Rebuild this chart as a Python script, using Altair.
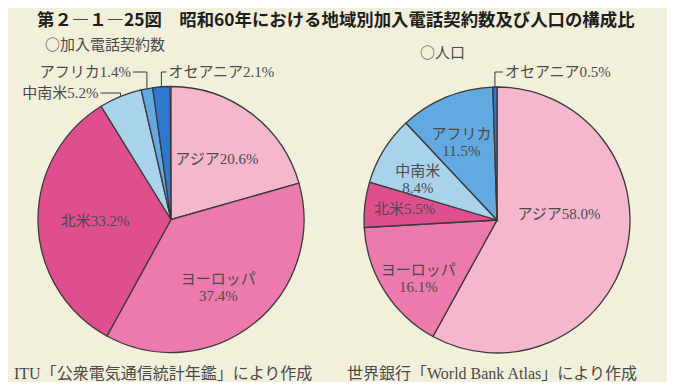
import altair as alt
import pandas as pd

# ---- data ----
regions = ["アジア", "ヨーロッパ", "北米", "中南米", "アフリカ", "オセアニア"]
phone = [20.6, 37.4, 33.2, 5.2, 1.4, 2.1]
population = [58.0, 16.1, 5.5, 8.4, 11.5, 0.5]

title_text = "第２―１―25図　昭和60年における地域別加入電話契約数及び人口の構成比"
sub_left = "○加入電話契約数"
sub_right = "○人口"
src_left = "ITU「公衆電気通信統計年鑑」により作成"
src_right = "世界銀行「World Bank Atlas」により作成"

colors = ["#f5b7ce", "#ec7aac", "#df4f8d", "#a9d3ea", "#62a9e2", "#2f77cf"]
BG = "#f2f0da"
STROKE = "#3a3a3a"
TXT = "#4a4a4a"
LABEL_FONT = "Liberation Serif, Noto Sans CJK JP"
JP_FONT = "Noto Sans CJK JP"
R = 133


def make_df(values, breaks):
    rows = []
    for i, (r, v) in enumerate(zip(regions, values)):
        sep = "\n" if r in breaks else ""
        rows.append({"idx": i, "region": r, "value": v, "label": f"{r}{sep}{v:.1f}%"})
    return pd.DataFrame(rows)


df_phone = make_df(phone, ["ヨーロッパ"])
df_pop = make_df(population, ["ヨーロッパ", "中南米", "アフリカ"])

theta_scale = alt.Scale(domain=[0, 100], range=[0, 6.283185307179586])
color_scale = alt.Scale(domain=regions, range=colors)


def pie(df, cx, cy):
    return alt.Chart(df).mark_arc(radius=R, stroke=STROKE, strokeWidth=1.3).encode(
        theta=alt.Theta("value:Q", stack=True, scale=theta_scale),
        color=alt.Color("region:N", scale=color_scale, legend=None),
        order=alt.Order("idx:Q"),
        x=alt.value(cx),
        y=alt.value(cy),
    )


def geo(df, cx, cy, rl):
    return alt.Chart(df).transform_window(
        cum="sum(value)", sort=[alt.SortField("idx", order="ascending")]
    ).transform_calculate(
        mid="(datum.cum - datum.value / 2) / 100 * 2 * PI",
        ex=f"{cx} + {R} * sin(datum.mid)",
        ey=f"{cy} - {R} * cos(datum.mid)",
        lx=f"{cx} + {rl} * sin(datum.mid)",
        ly=f"{cy} - {rl} * cos(datum.mid)",
    )


def inner_labels(df, cx, cy, rl, names, dx=0, dy=0):
    return geo(df, cx, cy, rl).transform_filter(
        alt.FieldOneOfPredicate(field="region", oneOf=names)
    ).mark_text(font=LABEL_FONT, fontSize=15, color=TXT, lineBreak="\n",
                align="center", baseline="middle", dx=dx, dy=dy, lineHeight=17).encode(
        x=alt.X("lx:Q", scale=None, axis=None),
        y=alt.Y("ly:Q", scale=None, axis=None),
        text="label:N",
    )


def outer_label(df, cx, cy, name, label_y, hlen):
    base = geo(df, cx, cy, R).transform_filter(alt.datum.region == name).transform_calculate(
        hx=f"datum.ex + {hlen}"
    )
    vert = base.mark_rule(color=STROKE, strokeWidth=1).encode(
        x=alt.X("ex:Q", scale=None, axis=None),
        y=alt.Y("ey:Q", scale=None, axis=None),
        y2=alt.value(label_y),
    )
    horiz = base.mark_rule(color=STROKE, strokeWidth=1).encode(
        x=alt.X("ex:Q", scale=None, axis=None),
        x2="hx:Q",
        y=alt.value(label_y),
    )
    txt = base.mark_text(font=LABEL_FONT, fontSize=15, color=TXT,
                         align="right" if hlen < 0 else "left",
                         dx=-2 if hlen < 0 else 2, baseline="middle").encode(
        x=alt.X("hx:Q", scale=None, axis=None),
        y=alt.value(label_y),
        text="label:N",
    )
    return [vert, horiz, txt]


def free_text(t, x, y, size, weight="normal", font=JP_FONT, color=TXT, align="left"):
    return alt.Chart(pd.DataFrame({"t": [t]})).mark_text(
        font=font, fontSize=size, fontWeight=weight, color=color,
        align=align, baseline="middle").encode(
        text="t:N", x=alt.value(x), y=alt.value(y))


LCX, LCY = 163, 211.5
RCX, RCY = 489, 212

layers = [
    pie(df_phone, LCX, LCY),
    pie(df_pop, RCX, RCY),
    inner_labels(df_phone, LCX, LCY, 76, ["アジア", "ヨーロッパ", "北米"]),
    inner_labels(df_pop, RCX, RCY, 93, ["ヨーロッパ", "北米", "中南米", "アフリカ"]),
    inner_labels(df_pop, RCX, RCY, 64, ["アジア"], dy=-22),
]
layers += outer_label(df_phone, LCX, LCY, "アフリカ", 64, -14)
layers += outer_label(df_phone, LCX, LCY, "中南米", 85, -20)
layers += outer_label(df_phone, LCX, LCY, "オセアニア", 64, 5)
layers += outer_label(df_pop, RCX, RCY, "オセアニア", 64, 8)
layers += [
    free_text(title_text, 29, 13, 17.4, weight="bold", color="#1e1e1e"),
    free_text(sub_left, 37, 37, 15),
    free_text(sub_right, 412, 45, 15),
    free_text(src_left, 6, 366, 16, font=LABEL_FONT),
    free_text(src_right, 339, 366, 16, font=LABEL_FONT),
]

chart = alt.layer(*layers).properties(
    width=659, height=374, background=BG, padding=0, autosize="none"
).configure_view(stroke=None)

chart.save("out.html", embed_options={"renderer": "svg", "actions": False})
